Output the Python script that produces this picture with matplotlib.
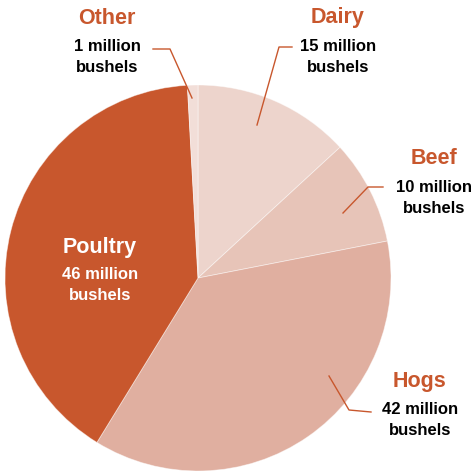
import matplotlib
matplotlib.use("Agg")
import matplotlib.pyplot as plt

categories = ["Dairy", "Beef", "Hogs", "Poultry", "Other"]
values = [15, 10, 42, 46, 1]
value_labels = ["15 million\nbushels", "10 million\nbushels", "42 million\nbushels",
                "46 million\nbushels", "1 million\nbushels"]
colors = ["#EDD4CC", "#E7C4B8", "#E0AFA0", "#C8572D", "#F2DED8"]
accent = "#C8572D"

W, H = 472, 471
fig = plt.figure(figsize=(W / 100, H / 100), dpi=100)
ax = fig.add_axes([0, 0, 1, 1])

def Y(y):
    return H - y

ax.pie(values, colors=colors, startangle=90, counterclock=False,
       center=(198, Y(278)), radius=193, frame=True,
       wedgeprops=dict(edgecolor=(1, 1, 1, 0.5), linewidth=0.6))
ax.set_xlim(0, W)
ax.set_ylim(0, H)
ax.set_aspect("equal")
ax.axis("off")

font = "Liberation Sans"
# label layout: (x, title y, value-block center y) in image pixels
layout = {
    "Dairy": (338, 18, 57, accent, "black"),
    "Beef": (434, 158, 198, accent, "black"),
    "Hogs": (420, 381, 420, accent, "black"),
    "Poultry": (100, 247, 285, "white", "white"),
    "Other": (107, 18, 57, accent, "black"),
}
for cat, lab in zip(categories, value_labels):
    x, ty, vy, c1, c2 = layout[cat]
    ax.text(x, Y(ty), cat, ha="center", va="center", fontsize=15.5,
            fontweight="bold", color=c1, family=font)
    ax.text(x, Y(vy), lab, ha="center", va="center", fontsize=12,
            fontweight="bold", color=c2, family=font, linespacing=1.5)

leaders = {
    "Other": [(153, 49), (170, 49), (192, 98)],
    "Dairy": [(292, 47), (279, 47), (257, 125)],
    "Beef": [(383, 187), (368, 187), (343, 213)],
    "Hogs": [(371, 412), (349, 410), (329, 376)],
}
for pts in leaders.values():
    ax.plot([p[0] for p in pts], [Y(p[1]) for p in pts], color=accent, lw=1.0)

fig.savefig("out.png", dpi=100)
